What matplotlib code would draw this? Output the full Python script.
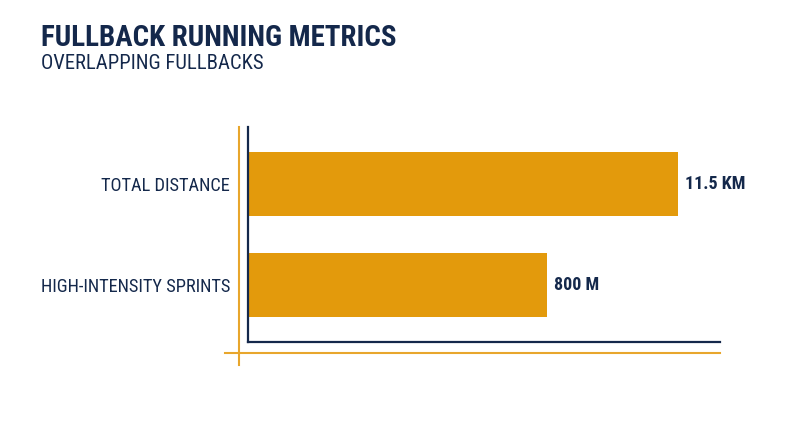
import matplotlib
matplotlib.use("Agg")
import matplotlib.pyplot as plt
from matplotlib import font_manager
from matplotlib.lines import Line2D

# data
categories = ["TOTAL DISTANCE", "HIGH-INTENSITY SPRINTS"]
values = [11.5, 8.0]
value_labels = ["11.5 KM", "800 M"]

title = "FULLBACK RUNNING METRICS"
subtitle = "OVERLAPPING FULLBACKS"

navy = "#14284B"
gold = "#E39A0C"
gold_line = "#E8A62C"

# pick a condensed face if there is one
names = set(f.name for f in font_manager.fontManager.ttflist)
font = "Roboto"
for cand in ["Roboto Condensed", "Liberation Sans Narrow", "Roboto"]:
    if cand in names:
        font = cand
        break
plt.rcParams["font.family"] = [font, "DejaVu Sans"]

W, H = 800, 447
fig = plt.figure(figsize=(W / 100, H / 100), dpi=100)

# axes box in pixels: x 248..720, y 127..342
x0, x1, y0, y1 = 248, 720, 127, 342
ax = fig.add_axes([x0 / W, 1 - y1 / H, (x1 - x0) / W, (y1 - y0) / H])

ypos = list(range(len(categories)))
ax.barh(ypos, values, height=0.634, color=gold, zorder=2)
ax.set_xlim(0, 12.62)
ax.set_ylim(1.564, -0.564)

for y, v, lab in zip(ypos, values, value_labels):
    ax.text(v + 0.19, y, lab, va="center", ha="left", fontsize=13,
            fontweight="bold", color=navy)

ax.set_yticks(ypos)
ax.set_yticklabels(categories, fontsize=13.2, color=navy)
ax.tick_params(axis="y", length=0, pad=13)
ax.set_xticks([])
for s in ["top", "right"]:
    ax.spines[s].set_visible(False)
for s in ["left", "bottom"]:
    ax.spines[s].set_color(navy)
    ax.spines[s].set_linewidth(1.6)

# offset decorative gold lines
fig.add_artist(Line2D([239 / W, 239 / W], [1 - 127 / H, 1 - 365 / H],
                      color=gold_line, lw=1.5, transform=fig.transFigure))
fig.add_artist(Line2D([225 / W, 720 / W], [1 - 353 / H, 1 - 353 / H],
                      color=gold_line, lw=1.5, transform=fig.transFigure))

fig.text(41 / W, 1 - 46.5 / H, title, fontsize=20.9, fontweight="bold",
         color=navy, ha="left", va="baseline")
fig.text(41 / W, 1 - 69 / H, subtitle, fontsize=14.9, color=navy,
         ha="left", va="baseline")

fig.savefig("out.png", dpi=100, facecolor="white")
